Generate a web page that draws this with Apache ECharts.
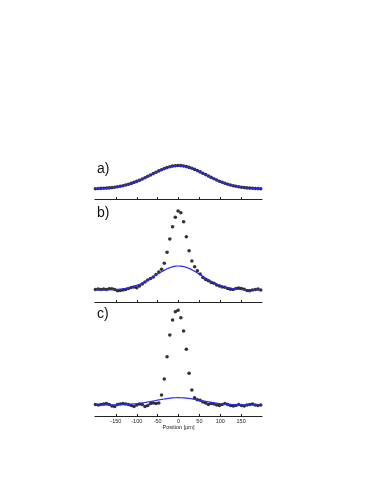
<!DOCTYPE html>
<html><head><meta charset="utf-8">
<script src="https://cdn.jsdelivr.net/npm/echarts@6/dist/echarts.min.js"></script>
<style>html,body{margin:0;padding:0;background:#fff}#c{width:374px;height:484px}</style>
</head><body><div id="c"></div>
<script>
// Positions (µm)
const positions = [-199,-192.4,-185.8,-179.2,-172.6,-166,-159.4,-152.8,-146.2,-139.6,-133,-126.4,-119.8,-113.2,-106.6,-100,-93.4,-86.8,-80.2,-73.6,-67,-60.4,-53.8,-47.2,-40.6,-34,-27.4,-20.8,-14.2,-7.6,-1,5.6,12.2,18.8,25.4,32,38.6,45.2,51.8,58.4,65,71.6,78.2,84.8,91.4,98,104.6,111.2,117.8,124.4,131,137.6,144.2,150.8,157.4,164,170.6,177.2,183.8,190.4,197];
// Panel a (a.u.)
const aMeasured = [0.3,0.5,0.6,0.7,0.9,1.1,1.4,1.8,2.2,2.7,3.3,4.0,4.7,5.6,6.6,7.6,8.8,10.0,11.3,12.7,14.0,15.4,16.8,18.1,19.3,20.4,21.4,22.2,22.9,23.3,23.5,23.4,23.0,22.4,21.6,20.7,19.6,18.4,17.1,15.8,14.4,13.0,11.6,10.3,9.0,7.8,6.7,5.7,4.8,4.0,3.3,2.7,2.2,1.8,1.4,1.1,0.9,0.7,0.5,0.4,0.3];
const aFit = [0.28,0.37,0.49,0.64,0.83,1.07,1.36,1.71,2.13,2.62,3.21,3.88,4.65,5.52,6.49,7.54,8.69,9.94,11.25,12.58,13.96,15.32,16.68,17.94,19.14,20.22,21.16,21.92,22.49,22.86,23.0,22.93,22.63,22.1,21.41,20.52,19.48,18.31,17.07,15.73,14.38,13.0,11.64,10.33,9.06,7.89,6.81,5.8,4.9,4.09,3.4,2.78,2.27,1.83,1.46,1.15,0.9,0.7,0.53,0.4,0.31];
// Panel b
const bMeasured = [0.5,1,0.5,1,0.5,1.2,1.3,0.5,-0.7,-0.5,0,0.5,1.5,2.5,3,2.3,4,6,8,10,11.5,13,15.5,18,20.7,26.7,37.7,51,63.3,72.7,79,77.3,68.3,53.3,39.3,29,23.3,19.3,16,12.5,10.5,9.3,7.5,6.7,5,4,3,2.7,1.5,0.7,0.5,1.5,2,1.5,0.7,-0.5,-0.7,0,0.5,1,0];
const bFit = [0.03,0.05,0.08,0.12,0.18,0.25,0.36,0.5,0.7,0.96,1.3,1.7,2.2,2.9,3.7,4.6,5.7,6.9,8.3,9.8,11.4,13.1,14.9,16.6,18.3,19.8,21.2,22.3,23.2,23.8,24,23.9,23.4,22.6,21.6,20.3,18.8,17.1,15.4,13.7,11.9,10.3,8.7,7.3,6.0,4.9,3.9,3.1,2.4,1.9,1.4,1.05,0.77,0.56,0.4,0.28,0.2,0.13,0.09,0.06,0.04];
// Panel c
const cMeasured = [0.5,0,0.5,1,1.5,0.5,-1,-1.5,0.5,1,1.5,1,0.5,-0.5,-1.5,0,1,0.5,-1.5,-0.5,1.5,2,1.5,2,10,26,48.3,70,85,93.3,94.7,87.3,74,55.7,31.7,15,7.3,5.3,4.7,3,2,0.5,1.5,1,0,-0.5,0.5,1.5,0.5,-0.5,-1,-0.5,0.5,-0.5,-1,0,0.5,1,0,-0.5,0];
const cFit = [0.01,0.02,0.02,0.04,0.05,0.08,0.11,0.15,0.21,0.29,0.39,0.52,0.68,0.88,1.12,1.40,1.73,2.10,2.52,2.99,3.47,3.99,4.53,5.05,5.56,6.03,6.45,6.80,7.06,7.23,7.30,7.26,7.12,6.88,6.56,6.16,5.71,5.20,4.69,4.15,3.63,3.13,2.66,2.23,1.83,1.49,1.20,0.95,0.74,0.57,0.43,0.32,0.24,0.17,0.12,0.09,0.06,0.04,0.03,0.02,0.01];
const tickValues = [-150,-100,-50,0,50,100,150];
const panelLabels = ['a)','b)','c)'];

const chart = echarts.init(document.getElementById('c'), null, {renderer:'canvas'});
const grids = [
  {left:95, width:167, top:150, height:49},
  {left:95, width:167, top:200, height:102},
  {left:95, width:167, top:303, height:113}
];
const yRanges = [[-10,39],[-12,90],[-11,102]];
const measured = [aMeasured,bMeasured,cMeasured];
const fits = [aFit,bFit,cFit];
const axisColor = '#222';
const xAxes = grids.map((g,i)=>({
  type:'value', gridIndex:i, min:-200, max:200,
  axisLine:{show:true, onZero:false, lineStyle:{color:axisColor, width:1.2}},
  axisTick:{show:true, inside:true, length:2, customValues:tickValues, lineStyle:{color:axisColor}},
  splitLine:{show:false},
  axisLabel:{show:i===2, customValues:tickValues, fontSize:5.5, color:'#222', margin:2, fontFamily:'Liberation Sans'},
  name: i===2 ? 'Position [µm]' : '',
  nameLocation:'middle', nameGap:8,
  nameTextStyle:{fontSize:5.5, color:'#222', fontFamily:'Liberation Sans'}
}));
const yAxes = grids.map((g,i)=>({type:'value', gridIndex:i, min:yRanges[i][0], max:yRanges[i][1], show:false}));
const series = [];
for (let i=0;i<3;i++){
  series.push({type:'scatter', xAxisIndex:i, yAxisIndex:i, symbolSize:3.6,
    itemStyle:{color:'#000'}, data:positions.map((x,k)=>[x,measured[i][k]]), z:2, silent:true});
  series.push({type:'line', xAxisIndex:i, yAxisIndex:i, showSymbol:false, smooth:true,
    lineStyle:{color:'#2a2af2', width:1.2}, data:positions.map((x,k)=>[x,fits[i][k]]), z:3, silent:true});
}
chart.setOption({
  animation:false,
  backgroundColor:'#fff',
  grid:grids,
  xAxis:xAxes,
  yAxis:yAxes,
  series:series,
  graphic:[
    {type:'text', left:97, top:162, style:{text:panelLabels[0], fontSize:14, fill:'#111', fontFamily:'Liberation Sans'}},
    {type:'text', left:97, top:206, style:{text:panelLabels[1], fontSize:14, fill:'#111', fontFamily:'Liberation Sans'}},
    {type:'text', left:97, top:307, style:{text:panelLabels[2], fontSize:14, fill:'#111', fontFamily:'Liberation Sans'}}
  ]
});
</script></body></html>
